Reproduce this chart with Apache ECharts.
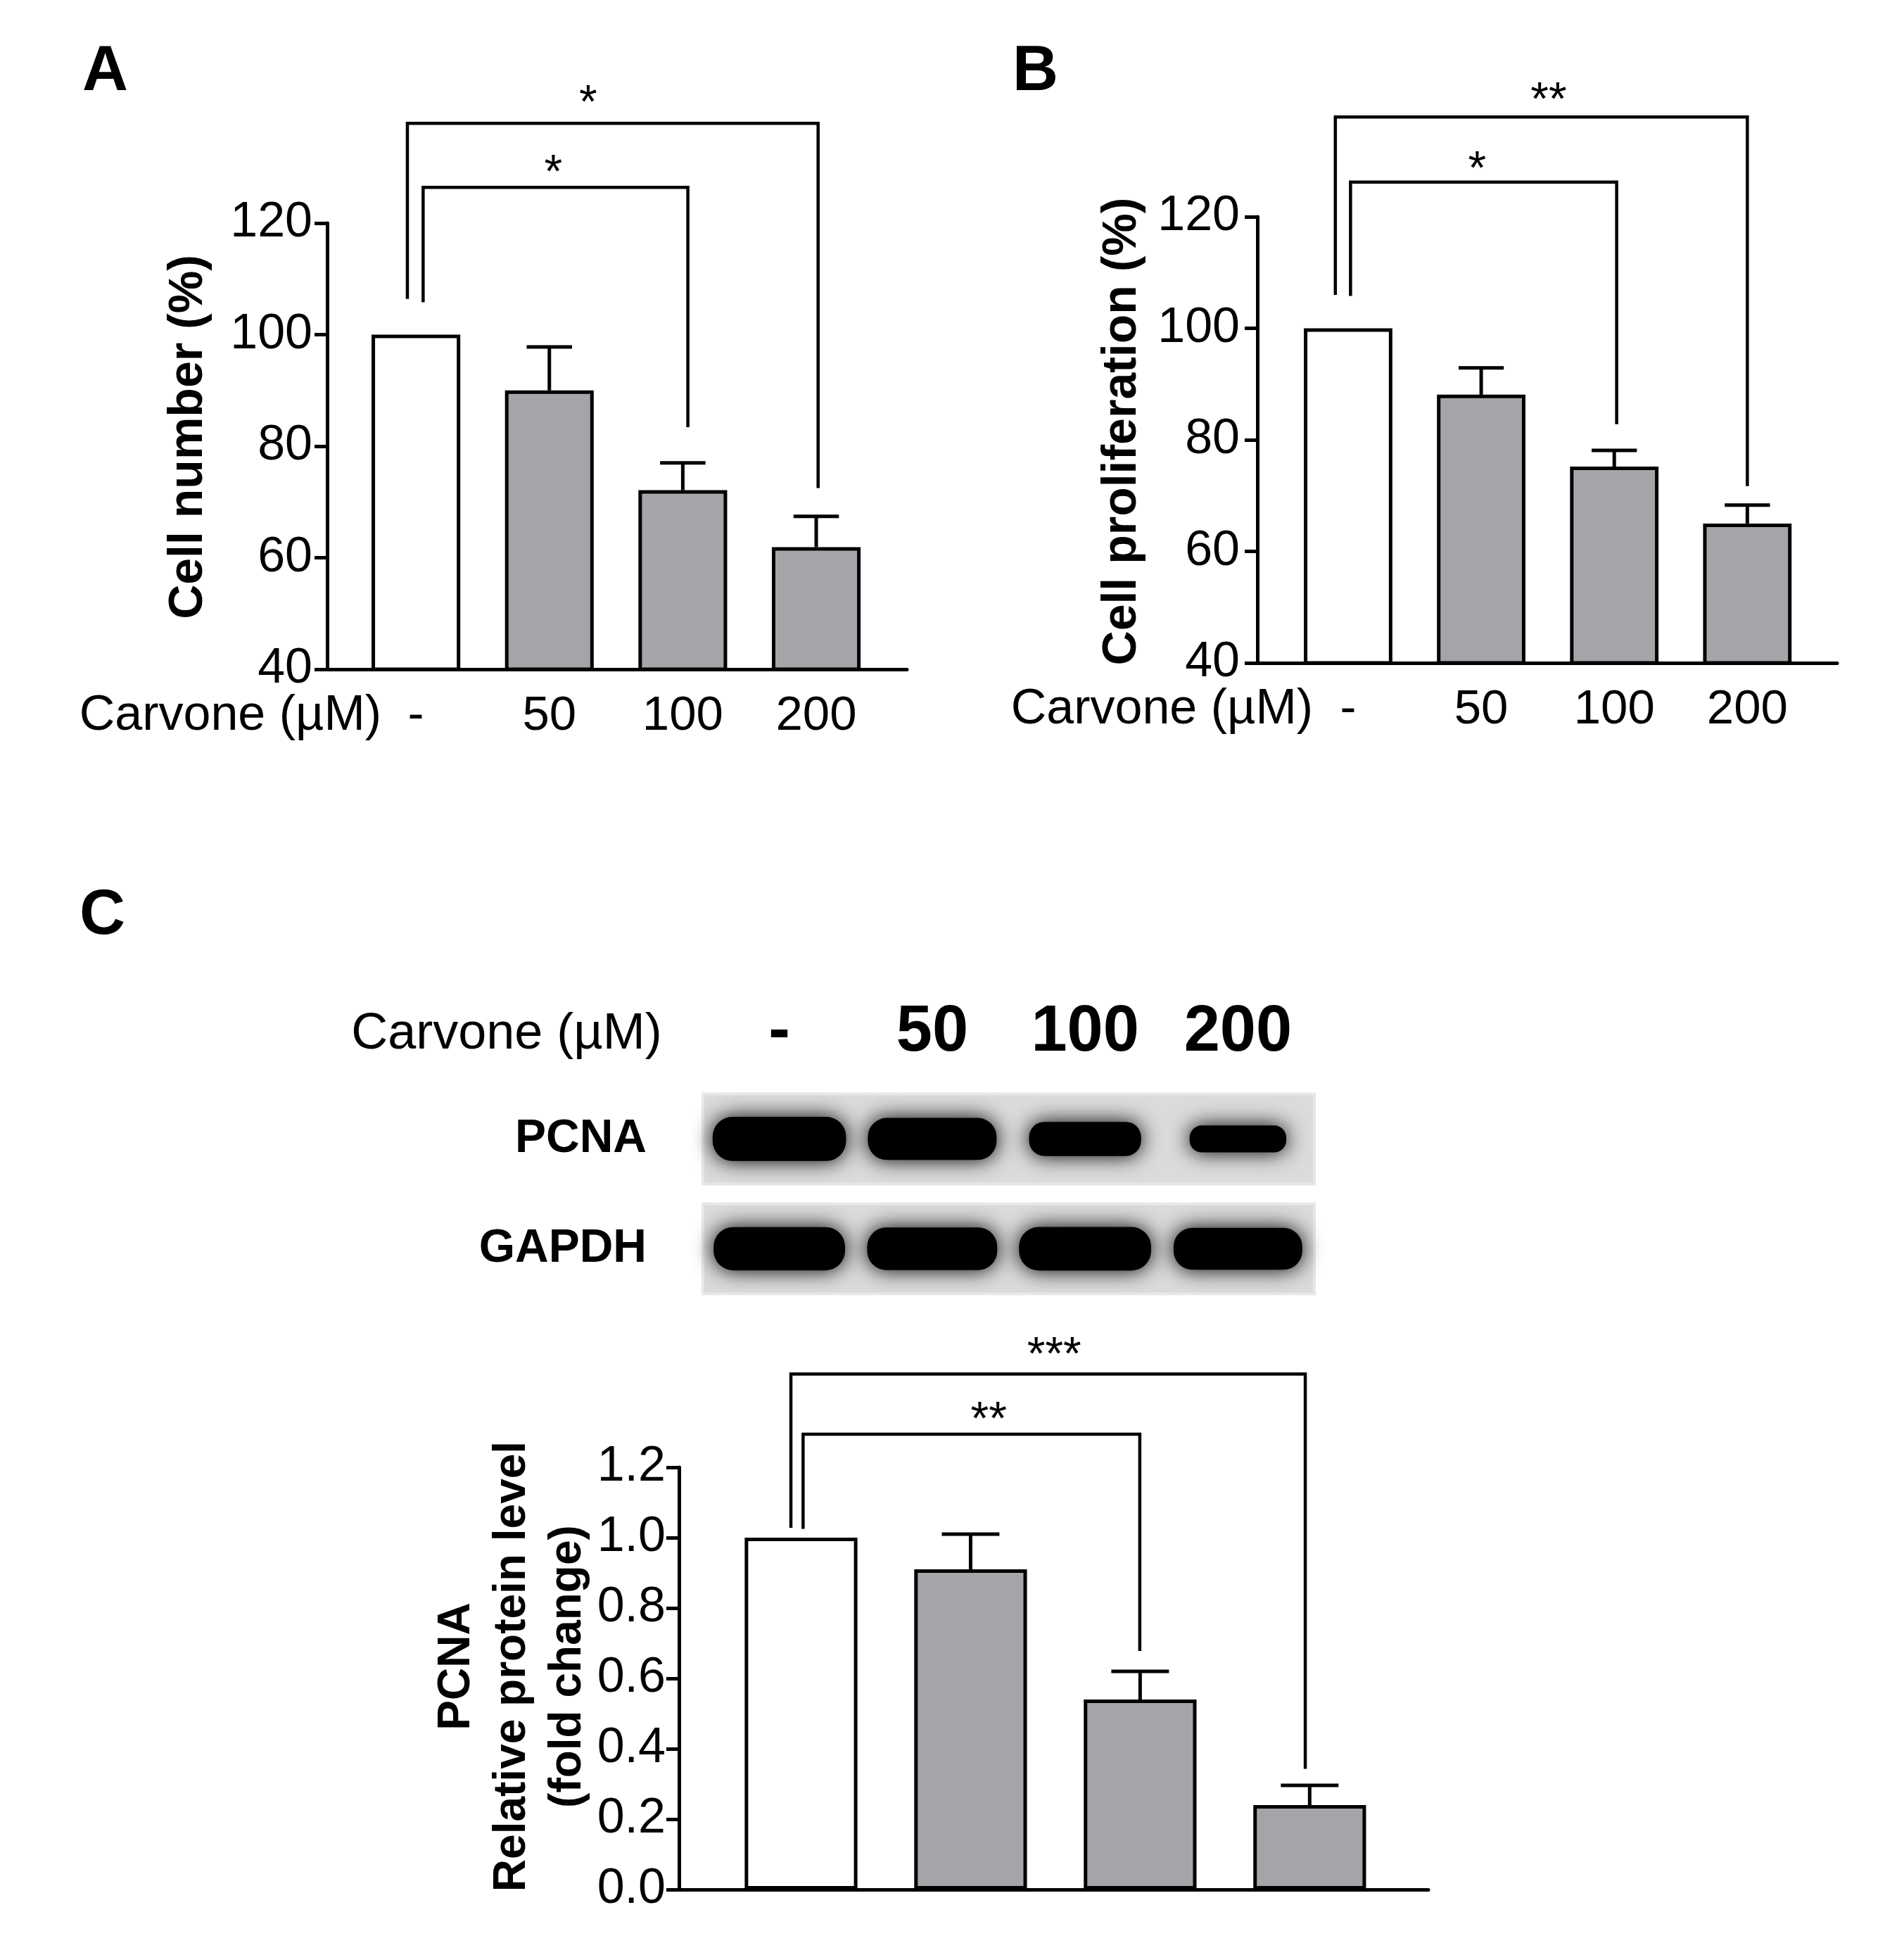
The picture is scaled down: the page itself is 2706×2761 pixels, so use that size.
<!DOCTYPE html>
<html><head><meta charset="utf-8">
<script src="https://cdn.jsdelivr.net/npm/echarts@6/dist/echarts.min.js"></script>
<style>html,body{margin:0;padding:0;background:#fff}#c{width:2706px;height:2761px}</style>
</head><body><div id="c"></div>
<script>
// ---------- data ----------
const doseLabels = ['-', '50', '100', '200'];
const cellNumber = [100, 90.0, 72.1, 61.9];
const cellNumberErr = [0, 7.8, 4.9, 5.5];
const cellProliferation = [100, 88.1, 75.2, 65.0];
const cellProliferationErr = [0, 4.8, 2.9, 3.3];
const pcnaRelative = [1.00, 0.91, 0.54, 0.24];
const pcnaRelativeErr = [0, 0.10, 0.08, 0.056];
const blotRowNames = ['GAPDH', 'PCNA'];
const pcnaBandDensity = [1.00, 0.93, 0.68, 0.45];
const gapdhBandDensity = [0.97, 0.95, 0.98, 0.93];
const sigA = ['*', '*'];
const sigB = ['*', '**'];
const sigC = ['**', '***'];

// ---------- annotation layout (data units) ----------
const bracketLayoutA = [
  {y: 126.4, x0: 0.054, x1: 2.038, y0: 105.8, y1: 83.4, tx: 1.03, ty: 130.8},
  {y: 137.9, x0: -0.064, x1: 3.014, y0: 106.4, y1: 72.5, tx: 1.29, ty: 143.2}
];
const bracketLayoutB = [
  {y: 126.2, x0: 0.018, x1: 2.018, y0: 105.8, y1: 82.8, tx: 0.97, ty: 130.2},
  {y: 137.9, x0: -0.096, x1: 3.0, y0: 106.0, y1: 71.7, tx: 1.507, ty: 142.6}
];
const bracketLayoutC = [
  {y: 1.294, x0: 0.012, x1: 1.998, y0: 1.025, y1: 0.678, tx: 1.107, ty: 1.362},
  {y: 1.465, x0: -0.06, x1: 2.974, y0: 1.028, y1: 0.343, tx: 1.493, ty: 1.546}
];

const FONT = "'Liberation Sans', Arial, Helvetica, sans-serif";
const GREY = '#a4a5a9';
const LW = 5;

const panels = [
  {grid: {left: 465, top: 317, width: 824, height: 634}, xr: [-0.665, 3.68], yr: [40, 120, 20],
   vals: cellNumber, errs: cellNumberErr, sig: sigA, br: bracketLayoutA, xlab: true, ylabMargin: 21, fmt: v => String(v)},
  {grid: {left: 1787, top: 308, width: 824, height: 634}, xr: [-0.682, 3.675], yr: [40, 120, 20],
   vals: cellProliferation, errs: cellProliferationErr, sig: sigB, br: bracketLayoutB, xlab: true, ylabMargin: 25, fmt: v => String(v)},
  {grid: {left: 965, top: 2085, width: 1065, height: 600}, xr: [-0.72, 3.7], yr: [0, 1.2, 0.2],
   vals: pcnaRelative, errs: pcnaRelativeErr, sig: sigC, br: bracketLayoutC, xlab: false, ylabMargin: 19, fmt: v => v.toFixed(1)}
];

const grids = [], xAxes = [], yAxes = [], series = [];
panels.forEach((p, i) => {
  grids.push(p.grid);
  xAxes.push({
    type: 'value', gridIndex: i, min: p.xr[0], max: p.xr[1],
    axisLine: {show: true, onZero: false, lineStyle: {color: '#000', width: LW}},
    axisTick: {show: false}, splitLine: {show: false},
    axisLabel: {show: p.xlab, customValues: [0, 1, 2, 3], formatter: v => doseLabels[Math.round(v)],
      color: '#000', fontSize: 69, fontFamily: FONT, margin: 32}
  });
  yAxes.push({
    type: 'value', gridIndex: i, min: p.yr[0], max: p.yr[1], interval: p.yr[2],
    axisLine: {show: true, onZero: false, lineStyle: {color: '#000', width: LW}},
    axisTick: {show: true, length: 18, lineStyle: {color: '#000', width: LW}},
    splitLine: {show: false},
    axisLabel: {color: '#000', fontSize: 70, fontFamily: FONT, margin: p.ylabMargin, formatter: p.fmt}
  });
  const barPx = p.grid.width / (p.xr[1] - p.xr[0]) * 0.665;
  series.push({
    type: 'bar', xAxisIndex: i, yAxisIndex: i, barWidth: barPx, silent: true, clip: true,
    itemStyle: {borderColor: '#000', borderWidth: LW},
    data: p.vals.map((v, k) => ({value: [k, v], itemStyle: {color: k === 0 ? '#fff' : GREY}}))
  });
  series.push({
    type: 'custom', xAxisIndex: i, yAxisIndex: i, silent: true, z: 5,
    data: p.vals.map((v, k) => [k, v, p.errs[k]]),
    renderItem: (params, api) => {
      const x = api.value(0), v = api.value(1), e = api.value(2);
      if (!e) return null;
      const base = api.coord([x, v]);
      const top = api.coord([x, v + e]);
      const half = api.size([0.34, 0])[0] / 2;
      const st = {stroke: '#000', lineWidth: LW, fill: null};
      return {type: 'group', children: [
        {type: 'line', shape: {x1: top[0], y1: base[1], x2: top[0], y2: top[1]}, style: st},
        {type: 'line', shape: {x1: top[0] - half, y1: top[1], x2: top[0] + half, y2: top[1]}, style: st}
      ]};
    }
  });
  series.push({
    type: 'custom', xAxisIndex: i, yAxisIndex: i, silent: true, clip: false, z: 6,
    data: p.br.map((b, k) => [b.tx, b.ty, k]),
    renderItem: (params, api) => {
      const b = p.br[params.dataIndex];
      const pts = [[b.x0, b.y0], [b.x0, b.y], [b.x1, b.y], [b.x1, b.y1]].map(q => api.coord(q));
      const t = api.coord([b.tx, b.ty]);
      return {type: 'group', children: [
        {type: 'polyline', shape: {points: pts}, style: {stroke: '#000', lineWidth: 4.5, fill: null}},
        {type: 'text', x: t[0], y: t[1] + 16, style: {text: p.sig[params.dataIndex], fontSize: 66, fontFamily: FONT,
          fill: '#000', align: 'center', verticalAlign: 'middle'}}
      ]};
    }
  });
});

// ---------- western blot panel ----------
const bi = panels.length;
grids.push({left: 999, top: 1556, width: 869, height: 284});
xAxes.push({
  type: 'value', gridIndex: bi, min: -0.5, max: 3.5, position: 'top',
  axisLine: {show: false}, axisTick: {show: false}, splitLine: {show: false},
  axisLabel: {customValues: [0, 1, 2, 3], formatter: v => doseLabels[Math.round(v)], color: '#000',
    fontSize: 92, fontWeight: 'bold', fontFamily: FONT, margin: 42}
});
yAxes.push({
  type: 'value', gridIndex: bi, min: -0.42, max: 1.4,
  axisLine: {show: false}, axisTick: {show: false}, splitLine: {show: false},
  axisLabel: {customValues: [0, 1], formatter: v => blotRowNames[Math.round(v)], color: '#000',
    fontSize: 66, fontWeight: 'bold', fontFamily: FONT, margin: 80}
});
series.push({
  type: 'custom', xAxisIndex: bi, yAxisIndex: bi, silent: true, z: 1,
  data: blotRowNames.map((n, r) => [0, r]),
  renderItem: (params, api) => {
    const r = api.value(1);
    const a = api.coord([-0.5, r + 0.41]);
    const b = api.coord([3.5, r - 0.41]);
    return {type: 'rect', shape: {x: a[0], y: a[1], width: b[0] - a[0], height: b[1] - a[1]},
      style: {fill: '#dbdbdb', stroke: '#e8e8e8', lineWidth: 4}};
  }
});
const bandData = [];
pcnaBandDensity.forEach((d, k) => bandData.push([k, 1, d]));
gapdhBandDensity.forEach((d, k) => bandData.push([k, 0, d]));
series.push({
  type: 'custom', xAxisIndex: bi, yAxisIndex: bi, silent: true, z: 3,
  data: bandData,
  renderItem: (params, api) => {
    const c = api.coord([api.value(0), api.value(1)]);
    const d = api.value(2);
    const lanePx = api.size([1, 0])[0];
    const rowPx = api.size([0, 1])[1];
    const w = lanePx * (0.45 + 0.45 * d) * 0.97;
    const h = rowPx * (0.1 + 0.25 * d) * 1.15;
    return {type: 'rect', shape: {x: c[0] - w / 2, y: c[1] - h / 2, width: w, height: h, r: h * 0.45},
      style: {fill: '#000', shadowBlur: 30, shadowColor: 'rgba(0,0,0,1)'}};
  }
});

// ---------- texts ----------
const tx = (text, x, y, size, weight, align, rot) => ({
  type: 'text', x, y, rotation: rot || 0,
  style: {text, fontSize: size, fontWeight: weight, fontFamily: FONT, fill: '#000', align: align, verticalAlign: 'middle'}
});
const graphic = [
  tx('A', 117, 103, 90, 'bold', 'left'),
  tx('B', 1439, 103, 90, 'bold', 'left'),
  tx('C', 113, 1302, 90, 'bold', 'left'),
  tx('Carvone (µM)', 542, 1018, 70, 'normal', 'right'),
  tx('Carvone (µM)', 1866, 1009, 70, 'normal', 'right'),
  tx('Carvone (µM)', 720, 1470, 72, 'normal', 'center'),
  tx('Cell number (%)', 268, 621, 68, 'bold', 'center', Math.PI / 2),
  tx('Cell proliferation (%)', 1595, 613, 68, 'bold', 'center', Math.PI / 2),
  {type: 'text', x: 728, y: 2368, rotation: Math.PI / 2,
   style: {text: 'PCNA\nRelative protein level\n(fold change)', fontSize: 64, fontWeight: 'bold', fontFamily: FONT,
     fill: '#000', align: 'center', verticalAlign: 'middle', lineHeight: 79}}
];

const chart = echarts.init(document.getElementById('c'), null, {renderer: 'canvas'});
chart.setOption({
  animation: false,
  backgroundColor: '#fff',
  grid: grids, xAxis: xAxes, yAxis: yAxes, series: series, graphic: graphic
});
</script>
</body></html>
